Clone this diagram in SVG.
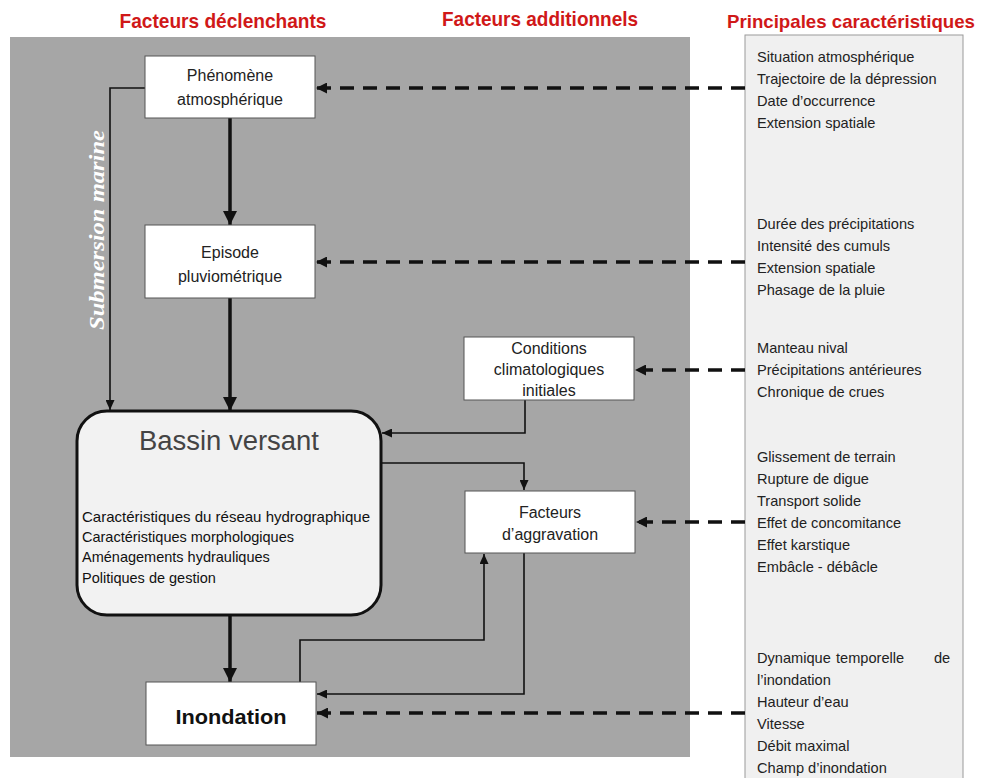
<svg xmlns="http://www.w3.org/2000/svg" width="983" height="778" viewBox="0 0 983 778">
<defs>
<style>
.hdr{font-family:"Liberation Sans",Arial,sans-serif;font-weight:bold;font-size:21px;fill:#d01818;text-anchor:middle}
.box{fill:#ffffff;stroke:#555;stroke-width:1}
.nt{font-family:"Liberation Sans",Arial,sans-serif;font-size:16px;fill:#222;text-anchor:middle}
.rt{font-family:"Liberation Sans",Arial,sans-serif;font-size:14.6px;fill:#222}
.bt{font-family:"Liberation Sans",Arial,sans-serif;font-size:14.5px;fill:#111}
.thick{stroke:#111;stroke-width:3.5;fill:none;marker-end:url(#ah)}
.thin{stroke:#111;stroke-width:1.6;fill:none;marker-end:url(#at)}
.dash{stroke:#111;stroke-width:3.5;fill:none;stroke-dasharray:14 9;marker-end:url(#ad)}
</style>
<marker id="ah" markerUnits="userSpaceOnUse" markerWidth="14" markerHeight="14" refX="14" refY="7" orient="auto"><path d="M0,0 L14,7 L0,14 z" fill="#111"/></marker>
<marker id="at" markerUnits="userSpaceOnUse" markerWidth="10" markerHeight="9" refX="10" refY="4.5" orient="auto"><path d="M0,0 L10,4.5 L0,9 z" fill="#111"/></marker>
<marker id="ad" markerUnits="userSpaceOnUse" markerWidth="11" markerHeight="11" refX="11" refY="5.5" orient="auto"><path d="M0,0 L11,5.5 L0,11 z" fill="#111"/></marker>
</defs>
<rect x="0" y="0" width="983" height="778" fill="#ffffff"/>
<g id="headers">
<text class="hdr" x="223" y="28" textLength="207" lengthAdjust="spacingAndGlyphs">Facteurs déclenchants</text>
<text class="hdr" x="540" y="26" textLength="196" lengthAdjust="spacingAndGlyphs">Facteurs additionnels</text>
<text class="hdr" x="851" y="28" style="font-size:19px" textLength="248" lengthAdjust="spacingAndGlyphs">Principales caractéristiques</text>
</g>
<rect id="background" x="10" y="37" width="680" height="720" fill="#a6a6a6"/>
<g id="panel">
<rect x="745" y="35" width="218" height="750" fill="#f0f0f0" stroke="#9a9a9a" stroke-width="1"/>
<text class="rt" x="757" y="62">Situation atmosphérique</text>
<text class="rt" x="757" y="84">Trajectoire de la dépression</text>
<text class="rt" x="757" y="106">Date d’occurrence</text>
<text class="rt" x="757" y="128">Extension spatiale</text>
<text class="rt" x="757" y="229">Durée des précipitations</text>
<text class="rt" x="757" y="251">Intensité des cumuls</text>
<text class="rt" x="757" y="273">Extension spatiale</text>
<text class="rt" x="757" y="295">Phasage de la pluie</text>
<text class="rt" x="757" y="353">Manteau nival</text>
<text class="rt" x="757" y="375">Précipitations antérieures</text>
<text class="rt" x="757" y="397">Chronique de crues</text>
<text class="rt" x="757" y="462">Glissement de terrain</text>
<text class="rt" x="757" y="484">Rupture de digue</text>
<text class="rt" x="757" y="506">Transport solide</text>
<text class="rt" x="757" y="528">Effet de concomitance</text>
<text class="rt" x="757" y="550">Effet karstique</text>
<text class="rt" x="757" y="572">Embâcle - débâcle</text>
<text class="rt" x="757" y="663">Dynamique</text>
<text class="rt" x="836" y="663">temporelle</text>
<text class="rt" x="934" y="663">de</text>
<text class="rt" x="757" y="685">l’inondation</text>
<text class="rt" x="757" y="707">Hauteur d’eau</text>
<text class="rt" x="757" y="729">Vitesse</text>
<text class="rt" x="757" y="751">Débit maximal</text>
<text class="rt" x="757" y="773">Champ d’inondation</text>
</g>
<g id="connectors">
<path class="thick" d="M230,118 V225"/>
<path class="thick" d="M230,298 V411"/>
<path class="thick" d="M230,615 V682"/>
<path class="thin" d="M145,88 H110 V410"/>
<path class="thin" d="M525,400 V433 H382"/>
<path class="thin" d="M381,463 H524 V490"/>
<path class="thin" d="M524,553 V694 H317"/>
<path class="thin" d="M300,682 V640 H484 V554"/>
<path class="dash" d="M745,88 H316"/>
<path class="dash" d="M745,262 H316"/>
<path class="dash" d="M745,370 H635"/>
<path class="dash" d="M745,522 H636"/>
<path class="dash" d="M745,713 H317"/>
<text x="104" y="230" transform="rotate(-90 104 230)" text-anchor="middle" font-family="'Liberation Serif','Times New Roman',serif" font-weight="bold" font-style="italic" font-size="20" fill="#ffffff" textLength="200" lengthAdjust="spacingAndGlyphs">Submersion marine</text>
</g>
<g id="phenomene">
<rect class="box" x="145" y="56" width="170" height="62"/>
<text class="nt" x="230" y="81">Phénomène</text>
<text class="nt" x="230" y="105">atmosphérique</text>
</g>
<g id="episode">
<rect class="box" x="145" y="225" width="170" height="73"/>
<text class="nt" x="230" y="258">Episode</text>
<text class="nt" x="230" y="282">pluviométrique</text>
</g>
<g id="bassin">
<rect x="77" y="411" width="304" height="204" rx="30" ry="30" fill="#f2f2f2" stroke="#111" stroke-width="3"/>
<text x="229" y="450" text-anchor="middle" font-family="'Liberation Sans',Arial,sans-serif" font-size="27" fill="#444" textLength="180" lengthAdjust="spacingAndGlyphs">Bassin versant</text>
<text class="bt" x="82" y="522" textLength="288" lengthAdjust="spacingAndGlyphs">Caractéristiques du réseau hydrographique</text>
<text class="bt" x="82" y="542">Caractéristiques morphologiques</text>
<text class="bt" x="82" y="562">Aménagements hydrauliques</text>
<text class="bt" x="82" y="583">Politiques de gestion</text>
</g>
<g id="conditions">
<rect class="box" x="464" y="337" width="170" height="63"/>
<text class="nt" x="549" y="354">Conditions</text>
<text class="nt" x="549" y="375">climatologiques</text>
<text class="nt" x="549" y="396">initiales</text>
</g>
<g id="aggravation">
<rect class="box" x="465" y="491" width="170" height="62"/>
<text class="nt" x="550" y="518">Facteurs</text>
<text class="nt" x="550" y="540">d’aggravation</text>
</g>
<g id="inondation">
<rect class="box" x="146" y="682" width="170" height="63"/>
<text x="231" y="724" text-anchor="middle" font-family="'Liberation Sans',Arial,sans-serif" font-weight="bold" font-size="21" fill="#111" textLength="111" lengthAdjust="spacingAndGlyphs">Inondation</text>
</g>
</svg>
